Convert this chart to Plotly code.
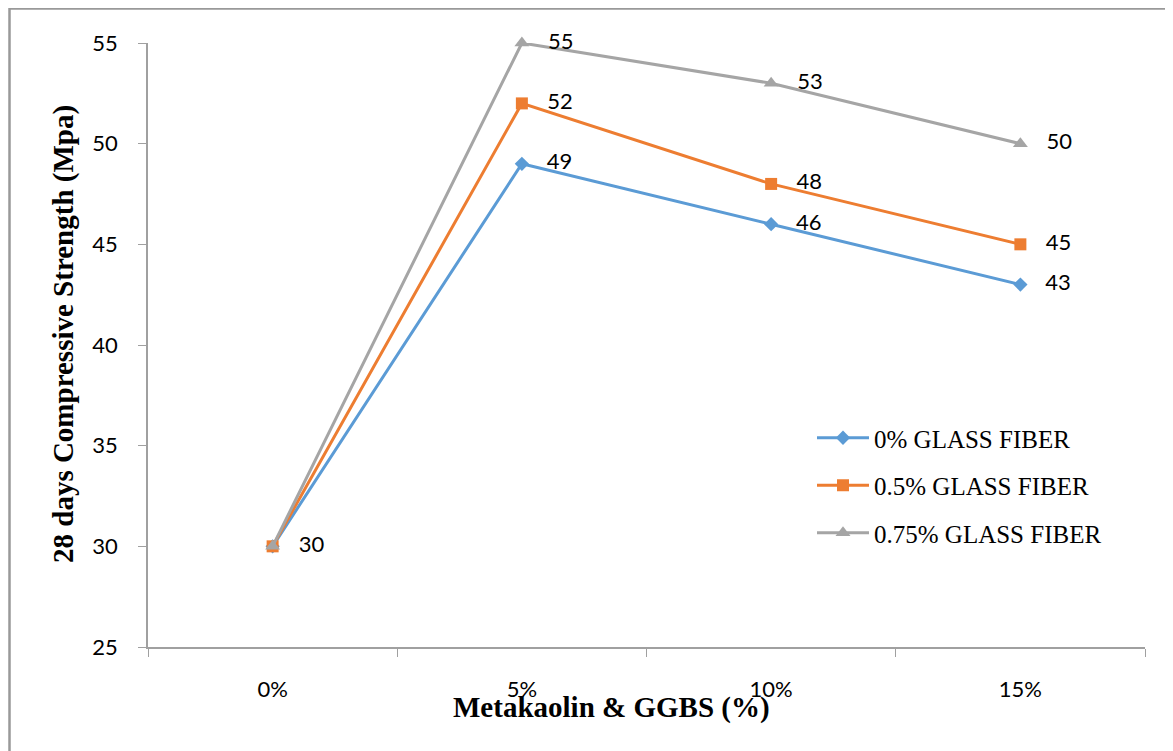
import plotly.graph_objects as go

categories = ["0%", "5%", "10%", "15%"]
s0 = [30, 49, 46, 43]
s05 = [30, 52, 48, 45]
s075 = [30, 55, 53, 50]
series_names = ["0% GLASS FIBER", "0.5% GLASS FIBER", "0.75% GLASS FIBER"]
colors = ["#5B9BD5", "#ED7D31", "#A5A5A5"]
symbols = ["diamond", "square", "triangle-up"]
msizes = [11, 12, 13]

fig = go.Figure()
for i, (name, vals, c, sym, ms) in enumerate(zip(series_names, [s0, s05, s075], colors, symbols, msizes)):
    labels = ["   " + str(v) for v in vals]
    if i < 2:
        labels[0] = ""
    fig.add_trace(go.Scatter(
        x=categories, y=vals, name=name, mode="lines+markers+text",
        legendgroup=f"g{i}",
        line=dict(color=c, width=3),
        marker=dict(symbol=sym, size=ms, color=c),
        text=labels,
        textposition="middle right",
        textfont=dict(family="Lato", size=22, color="#000000"),
        cliponaxis=False,
    ))

OFF = 8  # browser body offset
L, R, T, B = 148 - OFF, 36, 43 - OFF, 112
W, H = 1173, 751
pw, ph = W - L - R, H - T - B
bottom_px = 647 - OFF


def px_x(x):
    return (x - OFF - L) / pw


def px_y(y):
    return (bottom_px - (y - OFF)) / ph * 1.0 if False else ((H - B) - (y - OFF)) / ph


fig.update_layout(
    width=W, height=H,
    margin=dict(l=L, r=R, t=T, b=B),
    paper_bgcolor="white", plot_bgcolor="white",
    showlegend=True,
    legend=dict(
        x=px_x(812), y=px_y(415), xanchor="left", yanchor="top",
        font=dict(family="Liberation Serif", size=25, color="#000000"),
        bgcolor="rgba(0,0,0,0)", tracegroupgap=12, itemwidth=52,
    ),
    xaxis=dict(
        type="category", range=[-0.5, 3.5], tickson="boundaries",
        ticks="outside", ticklen=8, tickcolor="#A0A0A0", tickwidth=1,
        showline=True, linecolor="#A0A0A0", linewidth=1.5,
        showgrid=False, zeroline=False,
        tickfont=dict(family="Lato", size=22, color="#000000"),
        ticklabelstandoff=22,
    ),
    yaxis=dict(
        range=[25, 55], tickvals=[25, 30, 35, 40, 45, 50, 55],
        ticks="outside", ticklen=8, tickcolor="#A0A0A0", tickwidth=1,
        showline=True, linecolor="#A0A0A0", linewidth=1.5,
        showgrid=False, zeroline=False,
        tickfont=dict(family="Lato", size=22, color="#000000"),
        ticklabelstandoff=16,
    ),
    annotations=[
        dict(text="<b>Metakaolin &amp; GGBS (%)</b>", xref="paper", yref="paper",
             x=px_x(611), y=px_y(707), xanchor="center", yanchor="middle",
             showarrow=False, font=dict(family="Liberation Serif", size=29, color="#000000")),
        dict(text="<b>28 days Compressive Strength (Mpa)</b>", xref="paper", yref="paper",
             x=px_x(63), y=px_y(334), xanchor="center", yanchor="middle",
             textangle=-90, showarrow=False,
             font=dict(family="Liberation Serif", size=29, color="#000000")),
    ],
    shapes=[
        dict(type="rect", xref="paper", yref="paper",
             x0=px_x(9.5), x1=1.2, y0=-0.5, y1=px_y(8.5),
             line=dict(color="#999999", width=2.5), fillcolor="rgba(0,0,0,0)", layer="below"),
    ],
)

fig.write_html("out.html")
